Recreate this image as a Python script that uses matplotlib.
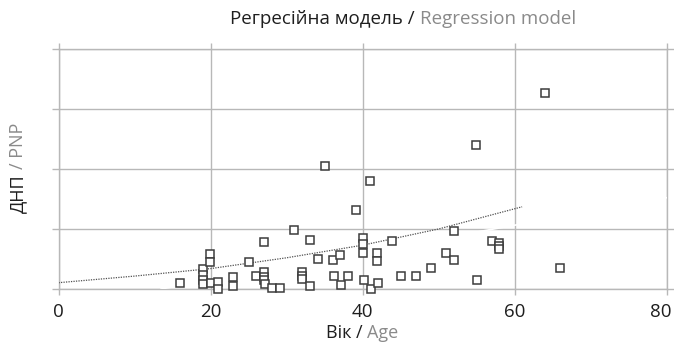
import matplotlib
matplotlib.use("Agg")
import matplotlib.pyplot as plt
from matplotlib.transforms import ScaledTranslation

plt.rcParams['font.family'] = ['Open Sans', 'DejaVu Sans']

# ---- data ----
age = [16.0, 19.0, 19.0, 19.0, 19.0, 19.9, 19.9, 20.1, 21.05, 21.05,
       23.0, 23.0, 25.0, 26.0, 27.0, 27.0, 27.0, 27.0, 27.2, 28.1,
       29.1, 31.0, 32.0, 32.0, 32.0, 33.1, 33.1, 34.1, 35.1, 36.1,
       36.3, 37.0, 37.2, 38.1, 39.1, 40.1, 40.1, 40.1, 40.2, 41.0,
       41.1, 41.9, 41.9, 42.0, 43.9, 45.1, 47.0, 49.0, 51.0, 52.0,
       52.0, 54.9, 55.1, 57.0, 58.0, 58.0, 58.0, 64.0, 66.0]
pnp = [0.092, 0.333, 0.233, 0.158, 0.083, 0.583, 0.45, 0.10, 0.125, 0.008,
       0.20, 0.058, 0.458, 0.225, 0.783, 0.283, 0.208, 0.15, 0.083, 0.025,
       0.017, 0.983, 0.283, 0.225, 0.167, 0.825, 0.05, 0.50, 2.042, 0.483,
       0.225, 0.567, 0.075, 0.225, 1.317, 0.842, 0.75, 0.60, 0.158, 1.80,
       0.008, 0.592, 0.467, 0.108, 0.80, 0.225, 0.225, 0.358, 0.592, 0.967,
       0.483, 2.408, 0.158, 0.80, 0.767, 0.717, 0.675, 3.267, 0.342]

trend_x = [0, 10, 20, 30, 40, 50, 61]
trend_y = [0.105, 0.215, 0.34, 0.52, 0.73, 1.0, 1.37]

white_x = [13.5, 80]
white_y = [0.0, 1.52]

x_ticks = [0, 20, 40, 60, 80]
y_ticks = [0, 1, 2, 3, 4]

title_parts = ["Регресійна модель /", "Regression model"]
xlabel_parts = ["Вік /", "Age"]
ylabel_parts = ["ДНП", "/ PNP"]

DARK = '#1e1e1e'
GRAY = '#8a8a8a'
GRID = '#b8b8b8'

W, H = 674, 342
fig = plt.figure(figsize=(W / 100, H / 100), dpi=100)
left, right, top, bottom = 58.5, 666.5, 49, 289
ax = fig.add_axes([left / W, 1 - bottom / H, (right - left) / W, (bottom - top) / H])

ax.set_xlim(0, 80)
ax.set_ylim(0, 4)
ax.set_xticks(x_ticks)
ax.set_yticks(y_ticks)
ax.set_yticklabels([])
ax.set_axisbelow(True)
ax.grid(True, color=GRID, lw=1.0)
for s in ax.spines.values():
    s.set_color(GRID)
    s.set_linewidth(1.0)
ax.tick_params(axis='x', which='both', top=True, bottom=True, direction='out',
               length=4, width=1.0, color=GRID, labelsize=13.5, labelcolor=DARK, pad=6)
ax.tick_params(axis='y', which='both', left=True, right=True, direction='out',
               length=5, width=1.0, color=GRID)

# keep the last tick label inside the canvas, as in the reference
last = ax.get_xticklabels()[-1]
last.set_transform(last.get_transform() + ScaledTranslation(-6 / 100, 0, fig.dpi_scale_trans))

ax.plot(white_x, white_y, color='white', lw=1.2, zorder=2.6)
ax.plot(trend_x, trend_y, color='#505050', lw=0.9, ls=(0, (1, 1)), zorder=2.7)
ax.plot(age, pnp, ls='none', marker='s', ms=6, mfc='white', mec='#3c3c3c',
        mew=1.1, zorder=3, clip_on=False)

r = fig.canvas.get_renderer()


def two_tone_h(xc, yb, parts, size):
    t1 = fig.text(0, 0, parts[0], color=DARK, fontsize=size, va='baseline', ha='left')
    t2 = fig.text(0, 0, parts[1], color=GRAY, fontsize=size, va='baseline', ha='left')
    w1 = t1.get_window_extent(r).width
    w2 = t2.get_window_extent(r).width
    gap = size * 100 / 72 * 0.26
    total = w1 + gap + w2
    x0 = xc - total / 2
    t1.set_position((x0 / W, 1 - yb / H))
    t2.set_position(((x0 + w1 + gap) / W, 1 - yb / H))


def two_tone_v(xc, yc, parts, size):
    t1 = fig.text(0, 0, parts[0], color=DARK, fontsize=size, rotation=90,
                  va='bottom', ha='center')
    t2 = fig.text(0, 0, parts[1], color=GRAY, fontsize=size, rotation=90,
                  va='bottom', ha='center')
    h1 = t1.get_window_extent(r).height
    h2 = t2.get_window_extent(r).height
    gap = size * 100 / 72 * 0.26
    total = h1 + gap + h2
    yb = yc + total / 2
    t1.set_position((xc / W, 1 - yb / H))
    t2.set_position((xc / W, 1 - (yb - h1 - gap) / H))


two_tone_h(403, 24, title_parts, 13.5)
two_tone_h(362, 338, xlabel_parts, 13)
two_tone_v(18, 168, ylabel_parts, 13)

fig.savefig('out.png', dpi=100, facecolor='white')
